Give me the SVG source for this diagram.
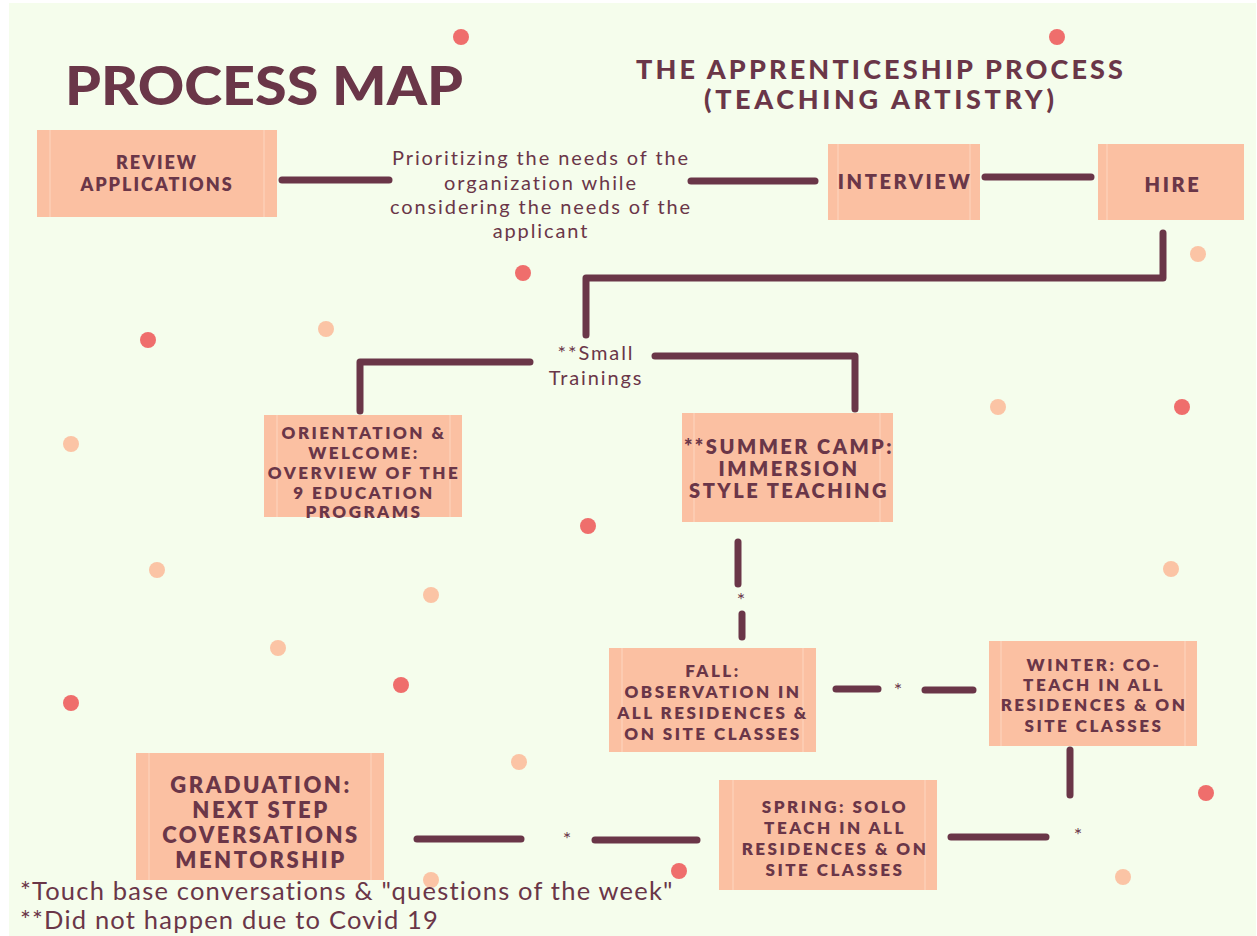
<svg xmlns="http://www.w3.org/2000/svg" width="1257" height="936" viewBox="0 0 1257 936">
  <defs>
    <style>
      .bg { fill: #f5fdec; }
      .box { fill: #fbc0a2; }
      .seam { stroke: #fdcfb6; stroke-width: 1.5; }
      .line { stroke: #6a3648; stroke-width: 7; stroke-linecap: round; fill: none; stroke-linejoin: round; }
      .title { font-family: Lato, "Liberation Sans", sans-serif; font-weight: 900; fill: #6a3648; }
      .label { font-family: Lato, "Liberation Sans", sans-serif; font-weight: 800; fill: #6a3648; text-anchor: middle; }
      .s17 { font-size: 17px; letter-spacing: 2.5px; }
      .note { font-family: Lato, "Liberation Sans", sans-serif; font-weight: 400; fill: #6a3648; text-anchor: middle; font-size: 20px; letter-spacing: 1.9px; }
      .star { font-family: Lato, "Liberation Sans", sans-serif; fill: #6a3648; text-anchor: middle; font-size: 20px; }
      .foot { font-family: Lato, "Liberation Sans", sans-serif; font-weight: 400; fill: #6a3648; font-size: 25.5px; letter-spacing: 1.2px; }
      .dot-red { fill: #ef6e6c; }
      .dot-peach { fill: #fbc4a5; }
    </style>
  </defs>

  <rect x="0" y="0" width="1257" height="936" fill="#ffffff"/>
  <rect class="bg" x="9" y="3" width="1247" height="933"/>

  <!-- scattered dots -->
  <g id="dots">
    <circle class="dot-red" cx="461" cy="37" r="8"/>
    <circle class="dot-red" cx="1057" cy="37" r="8"/>
    <circle class="dot-red" cx="523" cy="273" r="8"/>
    <circle class="dot-red" cx="148" cy="340" r="8"/>
    <circle class="dot-red" cx="1182" cy="407" r="8"/>
    <circle class="dot-red" cx="588" cy="526" r="8"/>
    <circle class="dot-red" cx="401" cy="685" r="8"/>
    <circle class="dot-red" cx="71" cy="703" r="8"/>
    <circle class="dot-red" cx="1206" cy="793" r="8"/>
    <circle class="dot-red" cx="679" cy="871" r="8"/>
    <circle class="dot-peach" cx="1198" cy="254" r="8"/>
    <circle class="dot-peach" cx="326" cy="329" r="8"/>
    <circle class="dot-peach" cx="71" cy="444" r="8"/>
    <circle class="dot-peach" cx="998" cy="407" r="8"/>
    <circle class="dot-peach" cx="157" cy="570" r="8"/>
    <circle class="dot-peach" cx="431" cy="595" r="8"/>
    <circle class="dot-peach" cx="1171" cy="569" r="8"/>
    <circle class="dot-peach" cx="278" cy="648" r="8"/>
    <circle class="dot-peach" cx="519" cy="762" r="8"/>
    <circle class="dot-peach" cx="1123" cy="877" r="8"/>
  </g>

  <!-- headings -->
  <g id="headings">
    <text class="title" x="65" y="105" font-size="54" textLength="398" lengthAdjust="spacingAndGlyphs">PROCESS MAP</text>
    <text class="title" x="636" y="79" font-size="27" font-weight="800" textLength="487" lengthAdjust="spacing">THE APPRENTICESHIP PROCESS</text>
    <text class="title" x="704" y="109" font-size="27" font-weight="800" textLength="350" lengthAdjust="spacing">(TEACHING ARTISTRY)</text>
  </g>

  <!-- connectors -->
  <g id="connectors">
    <line class="line" x1="282" y1="180" x2="389" y2="180"/>
    <line class="line" x1="691" y1="181" x2="815" y2="181"/>
    <line class="line" x1="985" y1="177" x2="1091" y2="177"/>
    <polyline class="line" points="1163,233 1163,278 586,278 586,335"/>
    <polyline class="line" points="530,362 360,362 360,411"/>
    <polyline class="line" points="655,356 855,356 855,409"/>
    <line class="line" x1="738" y1="542" x2="738" y2="584"/>
    <line class="line" x1="742" y1="614" x2="742" y2="637"/>
    <line class="line" x1="836" y1="689" x2="878" y2="689"/>
    <line class="line" x1="925" y1="690" x2="973" y2="690"/>
    <line class="line" x1="1070" y1="750" x2="1070" y2="795"/>
    <line class="line" x1="951" y1="837" x2="1046" y2="837"/>
    <line class="line" x1="595" y1="840" x2="697" y2="840"/>
    <line class="line" x1="417" y1="839" x2="521" y2="839"/>
    <text class="star" x="741" y="607">*</text>
    <text class="star" x="898" y="697">*</text>
    <text class="star" x="1078" y="842">*</text>
    <text class="star" x="567" y="846">*</text>
  </g>

  <!-- free notes -->
  <g id="note-priorities">
    <text class="note" x="541" y="165">Prioritizing the needs of the</text>
    <text class="note" x="541" y="190">organization while</text>
    <text class="note" x="541" y="214">considering the needs of the</text>
    <text class="note" x="541" y="238">applicant</text>
  </g>
  <g id="note-trainings">
    <text class="note" x="596" y="360">**Small</text>
    <text class="note" x="596" y="385">Trainings</text>
  </g>

  <!-- process nodes -->
  <g id="review">
    <rect class="box" x="37" y="130" width="240" height="87"/>
    <line class="seam" x1="50" y1="130" x2="50" y2="217"/>
    <line class="seam" x1="264" y1="130" x2="264" y2="217"/>
    <text class="label" x="157" y="169" font-size="18" letter-spacing="2">REVIEW</text>
    <text class="label" x="157" y="191" font-size="18" letter-spacing="2">APPLICATIONS</text>
  </g>
  <g id="interview">
    <rect class="box" x="828" y="144" width="152" height="76"/>
    <line class="seam" x1="838" y1="144" x2="838" y2="220"/>
    <line class="seam" x1="970" y1="144" x2="970" y2="220"/>
    <text class="label" x="905" y="189" font-size="20" letter-spacing="2.6">INTERVIEW</text>
  </g>
  <g id="hire">
    <rect class="box" x="1098" y="144" width="146" height="76"/>
    <line class="seam" x1="1107" y1="144" x2="1107" y2="220"/>
    <text class="label" x="1173" y="192" font-size="20" letter-spacing="2.6">HIRE</text>
  </g>
  <g id="orientation">
    <rect class="box" x="264" y="415" width="198" height="102"/>
    <line class="seam" x1="277" y1="415" x2="277" y2="517"/>
    <line class="seam" x1="450" y1="415" x2="450" y2="517"/>
    <text class="label s17" x="364" y="439">ORIENTATION &amp;</text>
    <text class="label s17" x="364" y="459">WELCOME:</text>
    <text class="label s17" x="364" y="479">OVERVIEW OF THE</text>
    <text class="label s17" x="364" y="499">9 EDUCATION</text>
    <text class="label s17" x="364" y="518">PROGRAMS</text>
  </g>
  <g id="summer-camp">
    <rect class="box" x="682" y="413" width="211" height="109"/>
    <line class="seam" x1="694" y1="413" x2="694" y2="522"/>
    <line class="seam" x1="880" y1="413" x2="880" y2="522"/>
    <text class="label" x="789" y="454" font-size="20" letter-spacing="2.5">**SUMMER CAMP:</text>
    <text class="label" x="789" y="476" font-size="20" letter-spacing="2.5">IMMERSION</text>
    <text class="label" x="789" y="498" font-size="20" letter-spacing="2.5">STYLE TEACHING</text>
  </g>
  <g id="fall">
    <rect class="box" x="609" y="648" width="207" height="104"/>
    <line class="seam" x1="622" y1="648" x2="622" y2="752"/>
    <line class="seam" x1="803" y1="648" x2="803" y2="752"/>
    <text class="label s17" x="713" y="677">FALL:</text>
    <text class="label s17" x="713" y="698">OBSERVATION IN</text>
    <text class="label s17" x="713" y="719">ALL RESIDENCES &amp;</text>
    <text class="label s17" x="713" y="740">ON SITE CLASSES</text>
  </g>
  <g id="winter">
    <rect class="box" x="989" y="641" width="208" height="105"/>
    <line class="seam" x1="1001" y1="641" x2="1001" y2="746"/>
    <line class="seam" x1="1185" y1="641" x2="1185" y2="746"/>
    <text class="label s17" x="1094" y="671">WINTER: CO-</text>
    <text class="label s17" x="1094" y="691">TEACH IN ALL</text>
    <text class="label s17" x="1094" y="711">RESIDENCES &amp; ON</text>
    <text class="label s17" x="1094" y="732">SITE CLASSES</text>
  </g>
  <g id="spring">
    <rect class="box" x="719" y="780" width="218" height="110"/>
    <line class="seam" x1="733" y1="780" x2="733" y2="890"/>
    <line class="seam" x1="925" y1="780" x2="925" y2="890"/>
    <text class="label s17" x="835" y="813">SPRING: SOLO</text>
    <text class="label s17" x="835" y="834">TEACH IN ALL</text>
    <text class="label s17" x="835" y="855">RESIDENCES &amp; ON</text>
    <text class="label s17" x="835" y="876">SITE CLASSES</text>
  </g>
  <g id="graduation">
    <rect class="box" x="136" y="753" width="248" height="127"/>
    <line class="seam" x1="149" y1="753" x2="149" y2="880"/>
    <line class="seam" x1="371" y1="753" x2="371" y2="880"/>
    <text class="label" x="261" y="793" font-size="22" letter-spacing="2.5">GRADUATION:</text>
    <text class="label" x="261" y="818" font-size="22" letter-spacing="2.5">NEXT STEP</text>
    <text class="label" x="261" y="843" font-size="22" letter-spacing="2.5">COVERSATIONS</text>
    <text class="label" x="261" y="868" font-size="22" letter-spacing="2.5">MENTORSHIP</text>
  </g>

  <!-- dot drawn over the graduation box edge -->
  <circle class="dot-peach" cx="431" cy="880" r="8"/>

  <!-- footnotes -->
  <g id="footnotes">
    <text class="foot" x="20" y="900">*Touch base conversations &amp; "questions of the week"</text>
    <text class="foot" x="20" y="929">**Did not happen due to Covid 19</text>
  </g>
</svg>
